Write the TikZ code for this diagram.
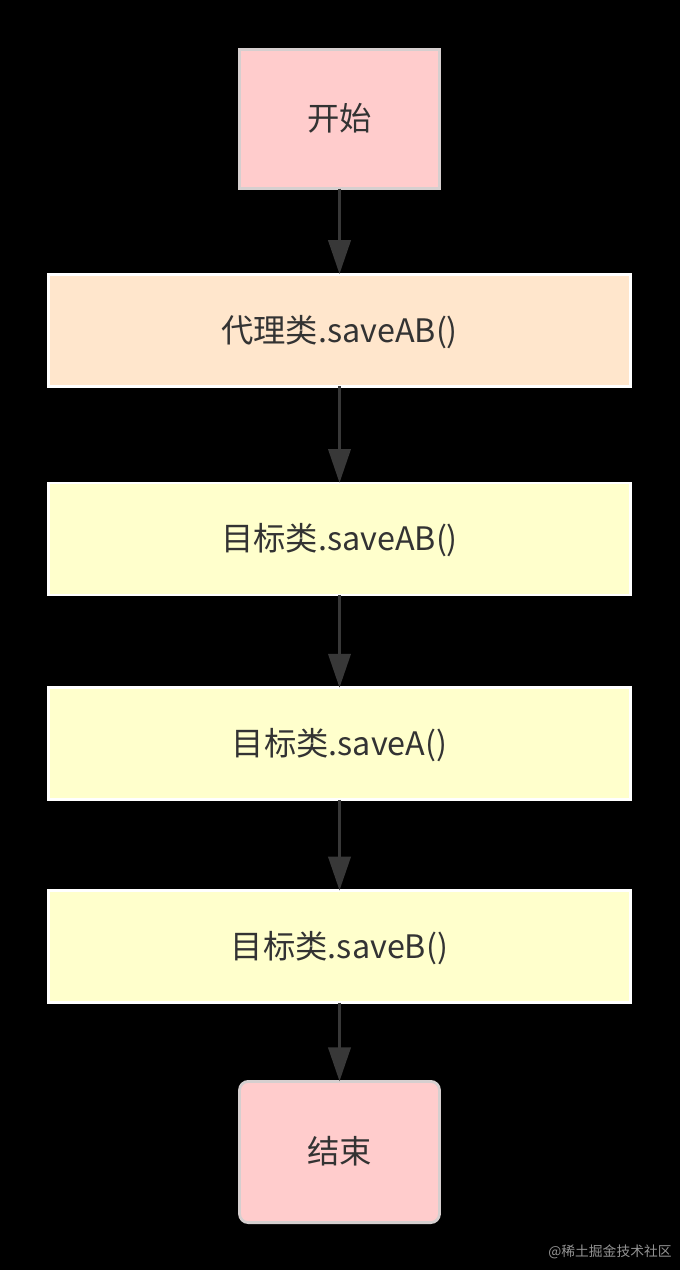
\documentclass[tikz,border=0pt]{standalone}
\usepackage{fontspec}
\newfontfamily\cjk{Noto Sans CJK SC}
\usepackage{xcolor}
\usetikzlibrary{arrows.meta,positioning}

\definecolor{termpink}{HTML}{FFCCCC}
\definecolor{proxypeach}{HTML}{FFE6CC}
\definecolor{targetyellow}{HTML}{FFFFCC}
\definecolor{edgegray}{HTML}{D6CFCF}
\definecolor{flowgray}{HTML}{383838}
\definecolor{labelgray}{HTML}{333333}

\begin{document}
\begin{tikzpicture}[
    terminal/.style={rectangle, draw=edgegray, line width=2pt, fill=termpink, minimum width=5cm, minimum height=3.48cm, outer sep=0pt, text=labelgray, font=\cjk\fontsize{23}{27}\selectfont, text depth=0.55ex},
    process/.style={rectangle, draw=white, line width=2pt, minimum width=14.55cm, minimum height=2.8cm, outer sep=0pt, text=labelgray, font=\cjk\fontsize{23}{27}\selectfont, text depth=0.55ex},
    flow/.style={-{Triangle[length=0.85cm, width=0.55cm]}, line width=2.8pt, draw=flowgray}
]

% background
\fill[black] (0,0) rectangle (17,-31.75);
\useasboundingbox (0,0) rectangle (17,-31.75);

\node[terminal] (start) at (8.4875,-2.975) {开始};

\node[process, fill=proxypeach, below=2.14cm of start] (proxy) {代理类.saveAB()};

\node[process, fill=targetyellow, below=2.42cm of proxy] (targetAB) {目标类.saveAB()};

\node[process, fill=targetyellow, below=2.32cm of targetAB] (targetA) {目标类.saveA()};

\node[process, fill=targetyellow, below=2.27cm of targetA] (targetB) {目标类.saveB()};

\node[terminal, rounded corners=0.22cm, minimum height=3.53cm, below=1.97cm of targetB] (stop) {结束};

% Arrows
\draw[flow] (start) -- (proxy);
\draw[flow] (proxy) -- (targetAB);
\draw[flow] (targetAB) -- (targetA);
\draw[flow] (targetA) -- (targetB);
\draw[flow] (targetB) -- (stop);

\node[text=gray!85, font=\cjk\fontsize{9.8}{11}\selectfont] (watermark) at (15.25,-31.3) {@稀土掘金技术社区};

\end{tikzpicture}
\end{document}
